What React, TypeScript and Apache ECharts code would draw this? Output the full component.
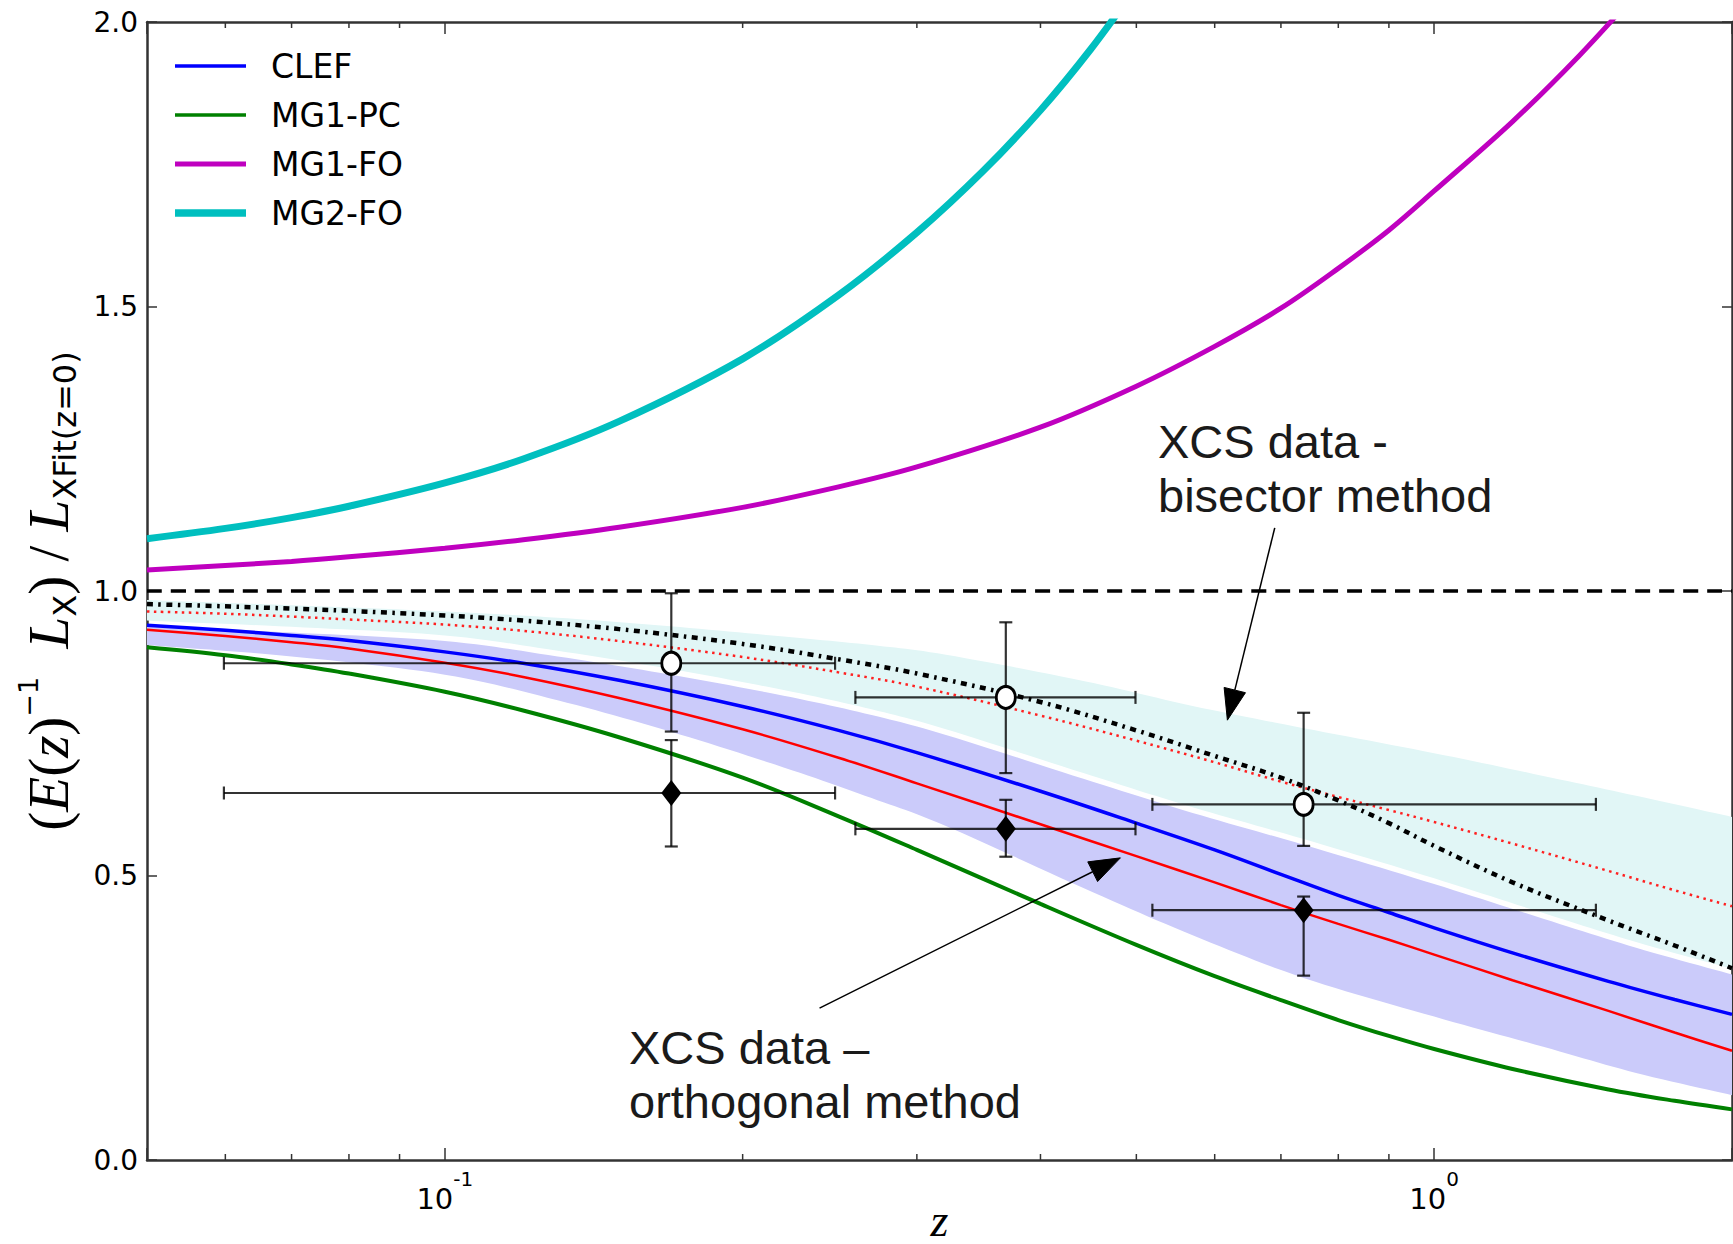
import React, { useEffect, useRef } from 'react';
import * as echarts from 'echarts';

// ---------------- data ----------------
const zGrid = [0.05, 0.06, 0.07, 0.08, 0.1, 0.12, 0.15, 0.2, 0.25, 0.3, 0.4, 0.5, 0.6, 0.7, 0.8, 0.9, 1.0, 1.2, 1.5, 1.75, 2.0];
const clef = [0.940, 0.931, 0.922, 0.913, 0.893, 0.873, 0.843, 0.797, 0.755, 0.716, 0.648, 0.592, 0.545, 0.502, 0.465, 0.435, 0.408, 0.364, 0.314, 0.282, 0.256];
const mg1pc = [0.901, 0.887, 0.871, 0.855, 0.823, 0.790, 0.743, 0.672, 0.604, 0.545, 0.450, 0.378, 0.323, 0.281, 0.246, 0.218, 0.195, 0.160, 0.124, 0.104, 0.089];
const orthoFit = [0.932, 0.921, 0.910, 0.899, 0.874, 0.849, 0.812, 0.757, 0.707, 0.662, 0.590, 0.534, 0.488, 0.448, 0.415, 0.387, 0.361, 0.316, 0.262, 0.224, 0.192];
const bisectorFit = [0.977, 0.973, 0.969, 0.965, 0.957, 0.948, 0.933, 0.907, 0.880, 0.855, 0.805, 0.755, 0.710, 0.672, 0.632, 0.592, 0.552, 0.488, 0.421, 0.377, 0.337];
const bisectorModel = [0.964, 0.960, 0.955, 0.950, 0.941, 0.930, 0.912, 0.884, 0.857, 0.832, 0.781, 0.737, 0.699, 0.665, 0.638, 0.615, 0.594, 0.556, 0.508, 0.474, 0.446];

const zMG1FO = [0.05, 0.06, 0.07, 0.08, 0.1, 0.12, 0.15, 0.2, 0.25, 0.3, 0.4, 0.5, 0.6, 0.7, 0.8, 0.9, 1.0, 1.2, 1.4, 1.6];
const mg1fo = [1.037, 1.045, 1.052, 1.060, 1.075, 1.090, 1.112, 1.147, 1.183, 1.218, 1.288, 1.360, 1.430, 1.497, 1.567, 1.634, 1.703, 1.825, 1.940, 2.050];
const zMG2FO = [0.05, 0.06, 0.07, 0.08, 0.1, 0.12, 0.15, 0.2, 0.25, 0.3, 0.35, 0.4, 0.45, 0.5];
const mg2fo = [1.092, 1.110, 1.129, 1.149, 1.190, 1.232, 1.298, 1.408, 1.520, 1.630, 1.738, 1.845, 1.953, 2.062];

const unityZ = [0.05, 2.0];
const unityV = [1.0, 1.0];

const zBand = [0.05, 0.07, 0.1, 0.13, 0.169, 0.22, 0.27, 0.321, 0.442, 0.57, 0.738, 1.0, 1.289, 1.6, 2.0];
const bisBandHi = [0.984, 0.975, 0.964, 0.953, 0.938, 0.920, 0.905, 0.888, 0.842, 0.798, 0.759, 0.715, 0.675, 0.640, 0.603];
const bisBandLo = [0.948, 0.937, 0.922, 0.895, 0.863, 0.826, 0.792, 0.757, 0.680, 0.620, 0.564, 0.495, 0.434, 0.383, 0.336];
const ortBandHi = [0.938, 0.927, 0.912, 0.885, 0.853, 0.816, 0.782, 0.747, 0.670, 0.610, 0.554, 0.485, 0.424, 0.373, 0.326];
const ortBandLo = [0.905, 0.885, 0.853, 0.808, 0.753, 0.690, 0.636, 0.587, 0.478, 0.395, 0.320, 0.252, 0.199, 0.153, 0.114];

const ptZ = [0.1694, 0.369, 0.738];
const ptZLo = [0.0598, 0.26, 0.519];
const ptZHi = [0.248, 0.499, 1.457];
const bisV = [0.873, 0.813, 0.625];
const bisVLo = [0.753, 0.680, 0.552];
const bisVHi = [0.996, 0.945, 0.786];
const ortV = [0.645, 0.582, 0.439];
const ortVLo = [0.551, 0.533, 0.324];
const ortVHi = [0.738, 0.633, 0.463];

const minorTickZ = [0.06, 0.07, 0.08, 0.09, 0.2, 0.3, 0.4, 0.5, 0.6, 0.7, 0.8, 0.9];

const legendNames = ['CLEF', 'MG1-PC', 'MG1-FO', 'MG2-FO'];
const legendColors = ['#0000ff', '#008000', '#bf00bf', '#00bfbf'];
const legendWidths = [3.5, 3.5, 5, 7.5];

// arrows: [tailZ, tailV, tipZ, tipV]
const arrowBisector = [0.69, 1.111, 0.618, 0.773];
const arrowOrthogonal = [0.2392, 0.267, 0.4818, 0.531];

// ---------------- helpers ----------------
const pairs = (xs: number[], ys: number[]) => xs.map((x, i) => [x, ys[i]]);

function catmull(pts: number[][], steps = 12): number[][] {
  const out: number[][] = [];
  const n = pts.length;
  for (let i = 0; i < n - 1; i++) {
    const p0 = pts[Math.max(i - 1, 0)];
    const p1 = pts[i];
    const p2 = pts[i + 1];
    const p3 = pts[Math.min(i + 2, n - 1)];
    for (let s = 0; s < steps; s++) {
      const t = s / steps;
      const t2 = t * t;
      const t3 = t2 * t;
      const f = (a: number, b: number, c: number, d: number) =>
        0.5 * (2 * b + (-a + c) * t + (2 * a - 5 * b + 4 * c - d) * t2 + (-a + 3 * b - 3 * c + d) * t3);
      out.push([f(p0[0], p1[0], p2[0], p3[0]), f(p0[1], p1[1], p2[1], p3[1])]);
    }
  }
  out.push(pts[n - 1]);
  return out;
}

const AXIS = '#333333';
const SANS = 'DejaVu Sans';
const SERIF = 'Liberation Serif';

function bandSeries(name: string, hi: number[], lo: number[], fill: string) {
  return {
    type: 'custom',
    name,
    coordinateSystem: 'cartesian2d',
    silent: true,
    clip: true,
    z: 1,
    data: [[zBand[0], lo[0]]],
    encode: { x: 0, y: 1 },
    renderItem: (params: any, api: any) => {
      const up = catmull(zBand.map((z, i) => api.coord([z, hi[i]])));
      const dn = catmull(zBand.map((z, i) => api.coord([z, lo[i]]))).reverse();
      return {
        type: 'polygon',
        shape: { points: up.concat(dn) },
        style: { fill, stroke: 'none' },
      };
    },
  };
}

function lineSeries(name: string, xs: number[], ys: number[], color: string, width: number, type: any = 'solid', z = 3) {
  return {
    type: 'line',
    name,
    data: pairs(xs, ys),
    showSymbol: false,
    symbol: 'none',
    smooth: 0.35,
    clip: true,
    silent: true,
    z,
    lineStyle: { color, width, type, cap: 'butt' },
  };
}

function errorBarSeries(name: string, vs: number[], vlo: number[], vhi: number[]) {
  return {
    type: 'custom',
    name,
    coordinateSystem: 'cartesian2d',
    silent: true,
    z: 6,
    encode: { x: 0, y: 1 },
    data: ptZ.map((z, i) => [z, vs[i], ptZLo[i], ptZHi[i], vlo[i], vhi[i]]),
    renderItem: (params: any, api: any) => {
      const z = api.value(0);
      const v = api.value(1);
      const L = api.coord([api.value(2), v]);
      const R = api.coord([api.value(3), v]);
      const B = api.coord([z, api.value(4)]);
      const T = api.coord([z, api.value(5)]);
      const c = 6.5;
      const st = { stroke: 'rgba(0,0,0,0.8)', lineWidth: 2.2 };
      const ln = (x1: number, y1: number, x2: number, y2: number) => ({ type: 'line', shape: { x1, y1, x2, y2 }, style: st });
      return {
        type: 'group',
        children: [
          ln(L[0], L[1], R[0], R[1]),
          ln(T[0], T[1], B[0], B[1]),
          ln(L[0], L[1] - c, L[0], L[1] + c),
          ln(R[0], R[1] - c, R[0], R[1] + c),
          ln(T[0] - c, T[1], T[0] + c, T[1]),
          ln(B[0] - c, B[1], B[0] + c, B[1]),
        ],
      };
    },
  };
}

const xLabelFmt = (val: number) => {
  const l = Math.log10(val);
  const r = Math.round(l);
  if (Math.abs(l - r) < 1e-6) return `{b|10}{s|${r}}`;
  return '';
};

const yName = '{r|(}{m|E}{r|(}{m|z}{r|)}{sup|−1}{r|  }{m|L}{sub|X}{r|) / }{m|L}{sub|XFit(z=0)}';

export default function App() {
  const ref = useRef<HTMLDivElement>(null);

  useEffect(() => {
    const el = ref.current;
    if (!el) return;
    const chart = echarts.init(el, null, { renderer: 'svg' });

    const xAxisBase = {
      type: 'log',
      logBase: 10,
      min: 0.05,
      max: 2.0,
      splitLine: { show: false },
      axisLine: { show: true, onZero: false, lineStyle: { color: AXIS, width: 2.5 } },
      axisTick: { show: true, inside: true, length: 12, lineStyle: { color: AXIS, width: 1.5 } },
    };
    const yAxisBase = {
      type: 'value',
      min: 0,
      max: 2,
      interval: 0.5,
      splitLine: { show: false },
      axisLine: { show: true, onZero: false, lineStyle: { color: AXIS, width: 2.5 } },
      axisTick: { show: true, inside: true, length: 10, lineStyle: { color: AXIS, width: 1.5 } },
    };

    const option: any = {
      animation: false,
      backgroundColor: '#ffffff',
      grid: { left: 147, top: 22, right: 1, bottom: 84, containLabel: false, outerBoundsMode: 'none' },
      xAxis: [
        {
          ...xAxisBase,
          position: 'bottom',
          name: 'z',
          nameLocation: 'middle',
          nameGap: 40,
          nameMoveOverlap: false,
          nameTextStyle: { fontFamily: SERIF, fontStyle: 'italic', fontSize: 46, lineHeight: 40, color: '#000' },
          axisLabel: {
            show: true,
            margin: 9,
            formatter: xLabelFmt,
            rich: {
              b: { fontFamily: SANS, fontSize: 29, lineHeight: 44, verticalAlign: 'bottom', color: '#000' },
              s: { fontFamily: SANS, fontSize: 20, lineHeight: 20, verticalAlign: 'top', color: '#000' },
            },
          },
        },
        { ...xAxisBase, position: 'top', axisLabel: { show: false } },
      ],
      yAxis: [
        {
          ...yAxisBase,
          position: 'left',
          name: yName,
          nameLocation: 'middle',
          nameRotate: 90,
          nameGap: 66,
          nameMoveOverlap: false,
          nameTextStyle: {
            color: '#000',
            rich: {
              m: { fontFamily: SERIF, fontStyle: 'italic', fontSize: 57, lineHeight: 66, color: '#000' },
              r: { fontFamily: SERIF, fontSize: 57, lineHeight: 66, color: '#000' },
              sup: { fontFamily: SANS, fontSize: 27, lineHeight: 30, verticalAlign: 'top', color: '#000' },
              sub: { fontFamily: SANS, fontSize: 32, lineHeight: 40, verticalAlign: 'bottom', color: '#000' },
            },
          },
          axisLabel: {
            show: true,
            margin: 9,
            fontFamily: SANS,
            fontSize: 28,
            color: '#000',
            showMinLabel: true,
            showMaxLabel: true,
            formatter: (v: number) => v.toFixed(1),
          },
        },
        { ...yAxisBase, position: 'right', axisLabel: { show: false } },
      ],
      series: [
        bandSeries('Bisector band', bisBandHi, bisBandLo, '#e1f6f6'),
        bandSeries('Orthogonal band', ortBandHi, ortBandLo, '#cbcbfa'),
        lineSeries('Orthogonal fit', zGrid, orthoFit, '#ff0000', 2.5),
        lineSeries('MG1-PC', zGrid, mg1pc, '#008000', 4),
        lineSeries('CLEF', zGrid, clef, '#0000ff', 3.5),
        lineSeries('Bisector model', zGrid, bisectorModel, '#ff2020', 2.5, [2.5, 4.5]),
        lineSeries('Bisector fit', zGrid, bisectorFit, '#000000', 4.5, [6, 5.5, 2.5, 5.5]),
        lineSeries('Unity', unityZ, unityV, '#000000', 3.5, [15, 9]),
        lineSeries('MG1-FO', zMG1FO, mg1fo, '#bf00bf', 5),
        lineSeries('MG2-FO', zMG2FO, mg2fo, '#00bfbf', 7),
        errorBarSeries('Bisector errors', bisV, bisVLo, bisVHi),
        errorBarSeries('Orthogonal errors', ortV, ortVLo, ortVHi),
        {
          type: 'scatter',
          name: 'XCS data - bisector',
          data: pairs(ptZ, bisV),
          symbol: 'circle',
          symbolSize: [19, 22],
          z: 7,
          silent: true,
          itemStyle: { color: '#ffffff', borderColor: '#000000', borderWidth: 3, opacity: 1 },
        },
        {
          type: 'scatter',
          name: 'XCS data - orthogonal',
          data: pairs(ptZ, ortV),
          symbol: 'diamond',
          symbolSize: [20, 26],
          z: 7,
          silent: true,
          itemStyle: { color: '#000000', opacity: 1 },
        },
        {
          type: 'custom',
          name: 'minor ticks',
          coordinateSystem: 'cartesian2d',
          silent: true,
          clip: false,
          z: 8,
          encode: { x: 0, y: 1 },
          data: minorTickZ.map((z) => [z, 0]),
          renderItem: (params: any, api: any) => {
            const p = api.coord([api.value(0), 0]);
            const cs = params.coordSys;
            const st = { stroke: AXIS, lineWidth: 1.5 };
            const yb = cs.y + cs.height;
            return {
              type: 'group',
              children: [
                { type: 'line', shape: { x1: p[0], y1: yb, x2: p[0], y2: yb - 6 }, style: st },
                { type: 'line', shape: { x1: p[0], y1: cs.y, x2: p[0], y2: cs.y + 6 }, style: st },
              ],
            };
          },
        },
      ],
    };

    chart.setOption(option);

    const clefIdx = option.series.findIndex((s: any) => s.name === 'CLEF');
    const toPx = (p: number[]) => chart.convertToPixel({ seriesIndex: clefIdx }, p) as number[];

    const graphics: any[] = [];
    // arrows
    [arrowBisector, arrowOrthogonal].forEach((a) => {
      const S = toPx([a[0], a[1]]);
      const T = toPx([a[2], a[3]]);
      const dx = T[0] - S[0];
      const dy = T[1] - S[1];
      const len = Math.hypot(dx, dy);
      const ux = dx / len;
      const uy = dy / len;
      const headL = 31;
      const headW = 11;
      const bx = T[0] - ux * headL;
      const by = T[1] - uy * headL;
      graphics.push({
        type: 'line',
        z: 20,
        shape: { x1: S[0], y1: S[1], x2: bx, y2: by },
        style: { stroke: '#000', lineWidth: 1.5 },
      });
      graphics.push({
        type: 'polygon',
        z: 20,
        shape: { points: [[T[0], T[1]], [bx - uy * headW, by + ux * headW], [bx + uy * headW, by - ux * headW]] },
        style: { fill: '#000', stroke: '#000', lineWidth: 1 },
      });
    });

    // annotation texts
    const annFont = { fontFamily: 'Liberation Sans', fontSize: 47, fill: '#1a1a1a' };
    const ann = [
      { text: 'XCS data -', x: 1158, y: 441 },
      { text: 'bisector method', x: 1158, y: 495 },
      { text: 'XCS data –', x: 629, y: 1047 },
      { text: 'orthogonal method', x: 629, y: 1101 },
    ];
    ann.forEach((t) => {
      graphics.push({
        type: 'text',
        z: 20,
        style: { ...annFont, text: t.text, x: t.x, y: t.y, align: 'left', verticalAlign: 'middle' },
      });
    });

    // legend
    const rowY = [66, 115, 164, 213];
    legendNames.forEach((nm, i) => {
      graphics.push({
        type: 'line',
        z: 20,
        shape: { x1: 175, y1: rowY[i], x2: 246, y2: rowY[i] },
        style: { stroke: legendColors[i], lineWidth: legendWidths[i] },
      });
      graphics.push({
        type: 'text',
        z: 20,
        style: { text: nm, x: 271, y: rowY[i], fontFamily: SANS, fontSize: 33, fill: '#000', align: 'left', verticalAlign: 'middle' },
      });
    });

    chart.setOption({ graphic: graphics });

    return () => {
      chart.dispose();
    };
  }, []);

  return (
    <div
      ref={ref}
      style={{ position: 'absolute', left: 0, top: 0, width: '1733px', height: '1244px', background: '#ffffff' }}
    />
  );
}
